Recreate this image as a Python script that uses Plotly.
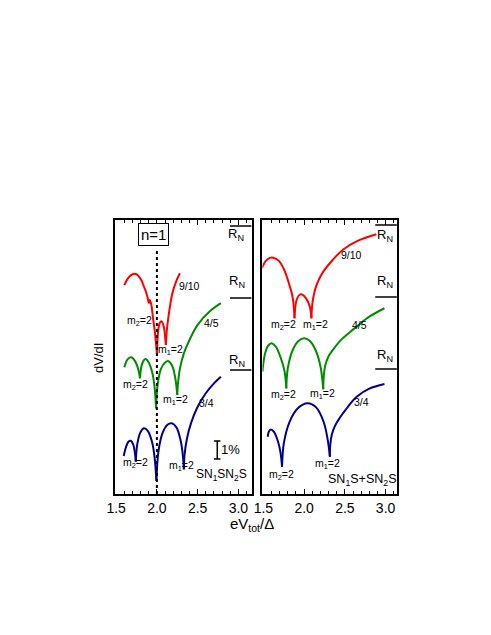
import plotly.graph_objects as go

# left panel: SN1SN2S  (None separates the arcs between cusps)
left_red_x = [1.60, 1.64, 1.69, 1.741, 1.80, 1.841, 1.875, 1.901, None,
              1.901, 1.912, 1.93, 1.953, 1.975, 2.002, None,
              2.002, 2.015, 2.035, 2.054, 2.075, 2.095, 2.11, None,
              2.11, 2.12, 2.142, 2.19, 2.24, 2.283]
left_red_y = [11.6, 11.95, 12.18, 12.22, 11.95, 11.52, 11.1, 10.59, None,
              10.59, 10.78, 10.55, 9.76, 9.0, 7.72, None,
              7.72, 9.05, 9.5, 9.6, 9.45, 9.0, 8.28, None,
              8.28, 9.0, 9.85, 11.15, 11.85, 12.26]

left_green_x = [1.60, 1.64, 1.681, 1.73, 1.77, 1.793, None,
                1.793, 1.81, 1.835, 1.861, 1.90, 1.94, 1.97, 1.99, None,
                1.99, 2.01, 2.05, 2.10, 2.142, 2.19, 2.225, 2.25, None,
                2.25, 2.26, 2.28, 2.33, 2.404, 2.50, 2.65, 2.785]
left_green_y = [7.04, 7.48, 7.6, 7.4, 6.95, 6.43, None,
                6.43, 7.1, 7.4, 7.5, 7.3, 6.8, 6.0, 4.76, None,
                4.76, 6.1, 6.95, 7.3, 7.38, 7.1, 6.45, 5.5, None,
                5.5, 6.2, 6.9, 7.8, 8.6, 9.4, 10.15, 10.6]

left_blue_x = [1.593, 1.62, 1.65, 1.68, 1.71, 1.73, 1.741, None,
               1.741, 1.76, 1.80, 1.841, 1.89, 1.94, 1.97, 1.994, None,
               1.994, 2.02, 2.07, 2.13, 2.183, 2.24, 2.29, 2.315, 2.331, None,
               2.331, 2.34, 2.37, 2.42, 2.50, 2.60, 2.70, 2.785]
left_blue_y = [2.11, 2.6, 2.9, 2.96, 2.75, 2.3, 1.80, None,
               1.80, 2.8, 3.45, 3.65, 3.5, 2.9, 2.1, 0.74, None,
               0.74, 2.4, 3.4, 3.85, 3.93, 3.7, 3.0, 2.3, 1.37, None,
               1.37, 2.2, 3.1, 3.95, 4.85, 5.6, 6.15, 6.52]

# right panel: SN1S+SN2S
right_red_x = [1.48, 1.53, 1.58, 1.62, 1.69, 1.76, 1.82, 1.86, 1.882, None,
               1.882, 1.90, 1.93, 1.962, 2.0, 2.05, 2.075, 2.09, None,
               2.09, 2.095, 2.11, 2.14, 2.19, 2.25, 2.35, 2.484, 2.65, 2.886]
right_red_y = [12.54, 12.95, 13.12, 13.13, 12.95, 12.4, 11.6, 10.9, 9.76, None,
               9.76, 10.65, 11.0, 11.1, 11.0, 10.65, 10.3, 9.76, None,
               9.76, 10.3, 10.85, 11.45, 12.0, 12.45, 13.0, 13.6, 14.05, 14.43]

right_green_x = [1.488, 1.52, 1.56, 1.60, 1.65, 1.71, 1.76, 1.781, None,
                 1.781, 1.80, 1.86, 1.93, 2.002, 2.07, 2.14, 2.20, 2.235, None,
                 2.235, 2.24, 2.26, 2.30, 2.36, 2.45, 2.55, 2.645, 2.80, 2.986]
right_green_y = [6.8, 7.8, 8.25, 8.37, 8.2, 7.6, 6.8, 5.87, None,
                 5.87, 7.0, 8.0, 8.5, 8.65, 8.5, 8.0, 7.1, 5.82, None,
                 5.82, 6.5, 7.15, 7.65, 8.05, 8.55, 8.95, 9.3, 9.85, 10.32]

right_blue_x = [1.552, 1.57, 1.593, 1.63, 1.68, 1.71, 1.729, None,
                1.729, 1.75, 1.82, 1.92, 2.042, 2.15, 2.24, 2.29, 2.316, None,
                2.316, 2.32, 2.34, 2.38, 2.44, 2.52, 2.645, 2.80, 2.986]
right_blue_y = [3.18, 3.5, 3.59, 3.45, 2.9, 2.3, 1.52, None,
                1.52, 2.8, 4.0, 4.75, 5.04, 4.8, 4.0, 3.0, 2.07, None,
                2.07, 2.7, 3.3, 3.8, 4.25, 4.75, 5.4, 5.85, 6.11]

# normal-state resistance levels
left_rn = [14.89, 10.89, 6.89]
right_rn = [14.94, 10.94, 6.94]

RED = "rgb(255,0,0)"
GREEN = "rgb(0,140,0)"
BLUE = "rgb(0,0,140)"
FONT = "Arial, Liberation Sans, sans-serif"

fig = go.Figure()

curves = [
    (left_red_x, left_red_y, RED, "x", "y"),
    (left_green_x, left_green_y, GREEN, "x", "y"),
    (left_blue_x, left_blue_y, BLUE, "x", "y"),
    (right_red_x, right_red_y, RED, "x2", "y2"),
    (right_green_x, right_green_y, GREEN, "x2", "y2"),
    (right_blue_x, right_blue_y, BLUE, "x2", "y2"),
]
for xs, ys, col, xa, ya in curves:
    fig.add_trace(go.Scatter(x=xs, y=ys, mode="lines", xaxis=xa, yaxis=ya,
                             line=dict(color=col, width=2, shape="spline", smoothing=1),
                             connectgaps=False, showlegend=False, hoverinfo="skip"))

# dotted line at eV/Delta = 2 in left panel
fig.add_trace(go.Scatter(x=[2.0, 2.0], y=[0, 13.6], mode="lines", xaxis="x", yaxis="y",
                         line=dict(color="black", width=2, dash="dot"),
                         showlegend=False, hoverinfo="skip"))

# 1% scale bar
fig.add_trace(go.Scatter(x=[2.70, 2.78, None, 2.741, 2.741, None, 2.70, 2.78],
                         y=[2.94, 2.94, None, 2.94, 1.94, None, 1.94, 1.94],
                         mode="lines", xaxis="x", yaxis="y",
                         line=dict(color="black", width=1.5),
                         showlegend=False, hoverinfo="skip"))

shapes = []
for v in left_rn:
    shapes.append(dict(type="line", xref="x", yref="y", x0=2.898, x1=3.163, y0=v, y1=v,
                       line=dict(color="black", width=1.5)))
for v in right_rn:
    shapes.append(dict(type="line", xref="x2", yref="y2", x0=2.873, x1=3.139, y0=v, y1=v,
                       line=dict(color="black", width=1.5)))


def lab(text, x, y, ax="x", size=10.5, **kw):
    d = dict(text=text, x=x, y=y, xref=ax, yref=ax.replace("x", "y"), showarrow=False,
             font=dict(family=FONT, size=size, color="black"))
    d.update(kw)
    return d


ann = [
    lab("9/10", 2.404, 11.57), lab("m<sub>2</sub>=2", 1.781, 9.61), lab("m<sub>1</sub>=2", 2.163, 8.0),
    lab("4/5", 2.665, 9.48), lab("m<sub>2</sub>=2", 1.741, 6.06), lab("m<sub>1</sub>=2", 2.223, 5.22),
    lab("3/4", 2.605, 5.04), lab("m<sub>2</sub>=2", 1.741, 1.71), lab("m<sub>1</sub>=2", 2.3, 1.56),
    lab("1%", 2.76, 2.5, size=13, xanchor="left"),
    lab("SN<sub>1</sub>SN<sub>2</sub>S", 2.79, 1.06, size=12),
    lab("R<sub>N</sub>", 2.966, 14.39, size=13), lab("R<sub>N</sub>", 2.986, 11.79, size=13),
    lab("R<sub>N</sub>", 2.986, 7.44, size=13),
    lab("n=1", 1.958, 14.42, size=15, bordercolor="black", borderwidth=1, borderpad=2,
        bgcolor="white"),
    lab("R<sub>N</sub>", 2.99, 14.36, "x2", 13), lab("R<sub>N</sub>", 2.99, 11.79, "x2", 13),
    lab("R<sub>N</sub>", 2.99, 7.72, "x2", 13),
    lab("9/10", 2.584, 13.28, "x2"), lab("m<sub>2</sub>=2", 1.741, 9.39, "x2"),
    lab("m<sub>1</sub>=2", 2.142, 9.39, "x2"), lab("4/5", 2.684, 9.39, "x2"),
    lab("m<sub>2</sub>=2", 1.741, 5.5, "x2"), lab("m<sub>1</sub>=2", 2.223, 5.56, "x2"),
    lab("3/4", 2.705, 5.13, "x2"), lab("m<sub>2</sub>=2", 1.72, 1.06, "x2"),
    lab("m<sub>1</sub>=2", 2.283, 1.67, "x2"),
    lab("SN<sub>1</sub>S+SN<sub>2</sub>S", 2.708, 0.78, "x2", 12.5),
    dict(text="eV<sub>tot</sub>/Δ", x=0.487, y=0.1874, xref="paper", yref="paper",
         showarrow=False, xanchor="center", yanchor="middle",
         font=dict(family=FONT, size=15, color="black")),
    dict(text="dV/dI", x=0.168, y=0.4488, xref="paper", yref="paper", showarrow=False,
         xanchor="center", yanchor="middle", textangle=-90,
         font=dict(family=FONT, size=13, color="black")),
]

xcommon = dict(showline=True, linecolor="black", linewidth=1.5, mirror="ticks",
               ticks="inside", ticklen=5, tickwidth=1, tickcolor="black",
               tick0=1.5, dtick=0.5, tickformat=".1f", showgrid=False, zeroline=False,
               tickfont=dict(family=FONT, size=14, color="black"),
               minor=dict(ticks="inside", ticklen=3, dtick=0.1, tick0=1.5,
                          tickcolor="black", showgrid=False))
ycommon = dict(showline=True, linecolor="black", linewidth=1.5, mirror=True,
               showticklabels=False, ticks="", showgrid=False, zeroline=False,
               range=[0, 15.22])

fig.update_layout(
    width=491, height=635, margin=dict(l=0, r=0, t=0, b=0),
    paper_bgcolor="white", plot_bgcolor="white",
    xaxis=dict(domain=[0.2037, 0.4868], range=[1.488, 3.163], anchor="y", **xcommon),
    yaxis=dict(domain=[0.2346, 0.6661], anchor="x", **ycommon),
    xaxis2=dict(domain=[0.5092, 0.7882], range=[1.488, 3.139], anchor="y2", **xcommon),
    yaxis2=dict(domain=[0.2346, 0.6661], anchor="x2", **ycommon),
    shapes=shapes, annotations=ann,
)

fig.write_html("out.html")
